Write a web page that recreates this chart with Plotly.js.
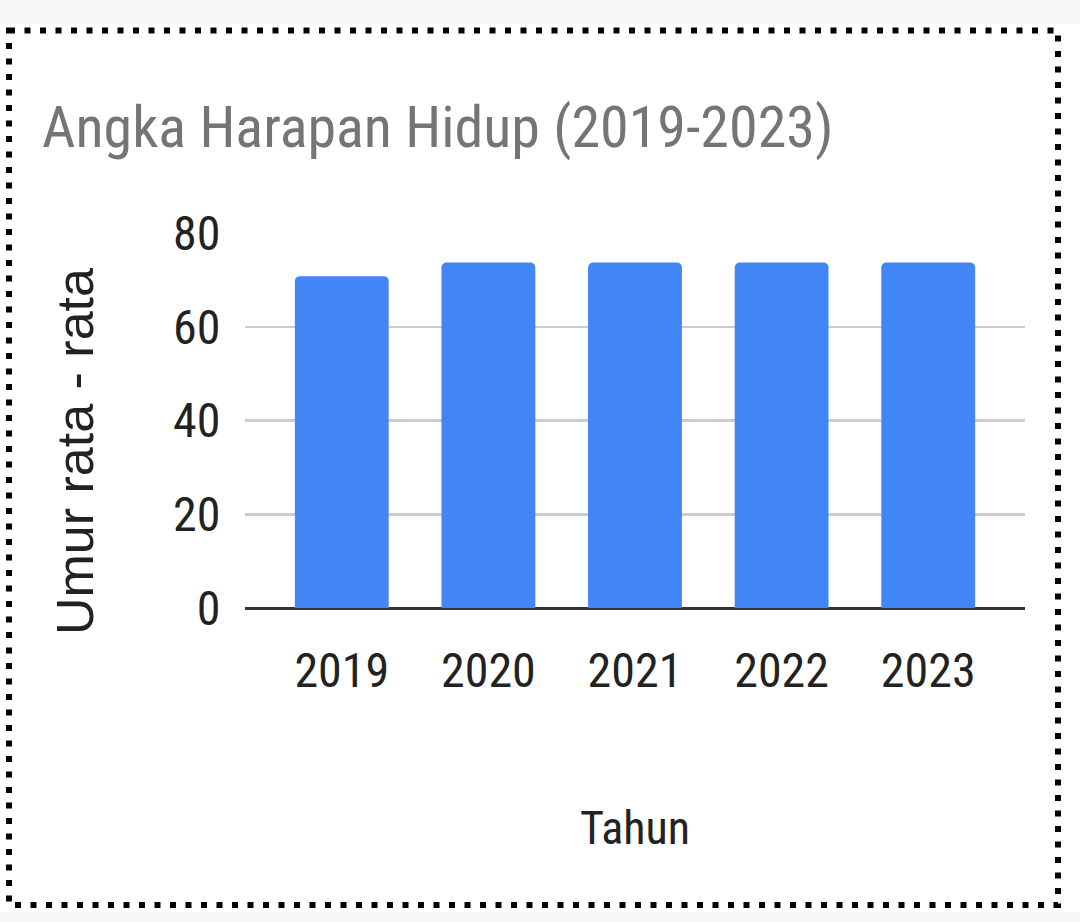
<!DOCTYPE html>
<html>
<head>
<meta charset="utf-8">
<script src="https://cdn.plot.ly/plotly-3.0.1.min.js"></script>
<style>
  html, body { margin: 0; padding: 0; background: #ffffff; }
  #chart { width: 1080px; height: 922px; }
</style>
</head>
<body>
<div id="chart"></div>
<script>
// ---- data ----
const years = ["2019", "2020", "2021", "2022", "2023"];
const lifeExpectancy = [70.8, 73.7, 73.7, 73.7, 73.7];
const yTicks = [0, 20, 40, 60, 80];

const chartTitle = "Angka Harapan Hidup (2019-2023)";
const xTitle = "Tahun";
const yTitle = "Umur rata - rata";

// ---- layout geometry (pixels) ----
const W = 1080, H = 922;
const L = 245, R = 1025, T = 233, B = 608;
const px2x = p => (p - L) / (R - L);
const px2y = p => (B - p) / (B - T);

const narrow = "'Liberation Sans Narrow', 'Arial Narrow', 'Roboto Condensed', 'Liberation Sans', Arial, sans-serif";
const regular = "'Liberation Sans', Arial, sans-serif";

const trace = {
  type: 'bar',
  x: years,
  y: lifeExpectancy,
  width: 0.64,
  marker: { color: '#4285F4', line: { width: 0 } },
  hoverinfo: 'x+y'
};

const layout = {
  width: W,
  height: H,
  margin: { l: L, r: W - R, t: T, b: H - B, pad: 0 },
  paper_bgcolor: '#ffffff',
  plot_bgcolor: '#ffffff',
  showlegend: false,
  barcornerradius: 5,
  font: { family: narrow, color: '#222222' },
  title: {
    text: chartTitle,
    font: { family: narrow, size: 58, color: '#757575' },
    xref: 'container', yref: 'container',
    x: 42 / W, xanchor: 'left',
    y: 1 - 127 / H, yanchor: 'middle'
  },
  xaxis: {
    type: 'category',
    range: [-0.66, 4.66],
    showgrid: false,
    zeroline: false,
    showline: false,
    ticks: 'outside',
    ticklen: 20,
    tickcolor: 'rgba(0,0,0,0)',
    tickfont: { family: narrow, size: 48, color: '#222222' },
    title: {
      text: xTitle,
      font: { family: narrow, size: 46, color: '#222222' },
      standoff: 114
    },
    automargin: false
  },
  yaxis: {
    range: [0, 80],
    tickvals: yTicks,
    ticktext: yTicks.map(String),
    showgrid: true,
    gridcolor: '#cccccc',
    gridwidth: 2.5,
    zeroline: true,
    zerolinecolor: '#333333',
    zerolinewidth: 3,
    showline: false,
    ticks: 'outside',
    ticklen: 14,
    tickcolor: 'rgba(0,0,0,0)',
    tickfont: { family: narrow, size: 48, color: '#222222' },
    automargin: false
  },
  annotations: [{
    text: yTitle,
    xref: 'paper', yref: 'paper',
    x: px2x(75), y: px2y(452),
    xanchor: 'center', yanchor: 'middle',
    textangle: -90,
    showarrow: false,
    font: { family: regular, size: 52, color: '#222222' }
  }],
  shapes: [
    { type: 'rect', xref: 'paper', yref: 'paper', layer: 'below',
      x0: px2x(0), x1: px2x(W), y0: px2y(0), y1: px2y(24),
      fillcolor: '#f7f7f7', line: { width: 0 } },
    { type: 'rect', xref: 'paper', yref: 'paper', layer: 'below',
      x0: px2x(0), x1: px2x(W), y0: px2y(912), y1: px2y(H),
      fillcolor: '#f7f7f7', line: { width: 0 } },
    { type: 'rect', xref: 'paper', yref: 'paper', layer: 'above',
      x0: px2x(9), x1: px2x(1058), y0: px2y(30.5), y1: px2y(905),
      fillcolor: 'rgba(0,0,0,0)',
      line: { color: '#000000', width: 6, dash: '6px,9.5px' } }
  ]
};

Plotly.newPlot('chart', [trace], layout, { displayModeBar: false, staticPlot: true });
</script>
</body>
</html>
